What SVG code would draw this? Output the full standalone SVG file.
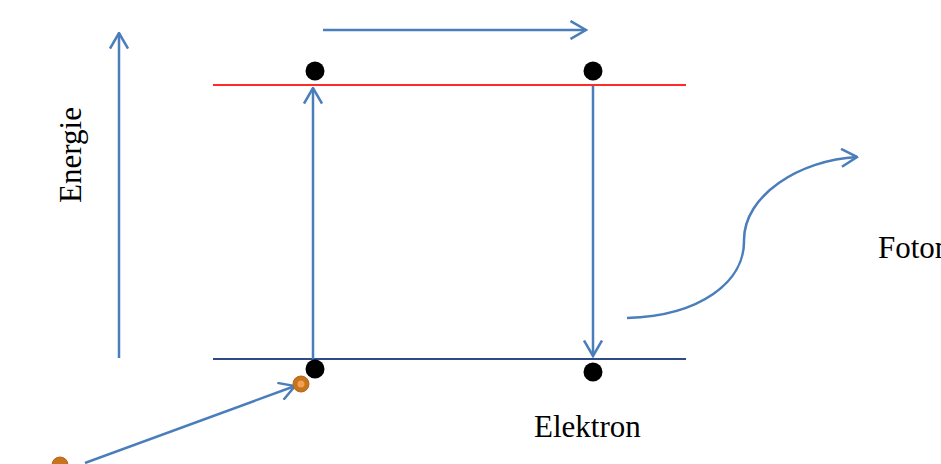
<svg xmlns="http://www.w3.org/2000/svg" width="941" height="464" viewBox="0 0 941 464">
<style>
.a{fill:none;stroke:#4a7ebb;stroke-width:2.5;marker-end:url(#h)}
.t{font-family:"Liberation Serif",serif;font-size:31px;fill:#000}
.e{fill:#000}
.p{fill:#c8741f;stroke:#b8651a;stroke-width:1}
</style>
<defs>
<marker id="h" viewBox="0 0 18 20" refX="16.5" refY="10" markerWidth="18" markerHeight="20" markerUnits="userSpaceOnUse" orient="auto">
<path d="M1,1 L16.5,10 L1,19" fill="none" stroke="#4a7ebb" stroke-width="2.5"/>
</marker>
</defs>
<rect width="941" height="464" fill="#fff"/>
<g id="levels">
<line x1="213" y1="85" x2="686" y2="85" stroke="#ff2a2a" stroke-width="2"/>
<line x1="213" y1="359" x2="686" y2="359" stroke="#2f4a86" stroke-width="2"/>
</g>
<g id="connectors">
<line class="a" x1="119" y1="358" x2="119" y2="33"/>
<line class="a" x1="323" y1="30" x2="586" y2="30"/>
<line class="a" x1="313" y1="359" x2="313" y2="88"/>
<line class="a" x1="593" y1="86" x2="593" y2="356"/>
<line class="a" x1="85" y1="463" x2="295" y2="386"/>
<path class="a" d="M627,318 C700,316 745,282 744,240 C744,195 800,160 857,157"/>
</g>
<g id="electrons">
<circle class="e" cx="315" cy="71" r="9.5"/>
<circle class="e" cx="593" cy="71" r="9.5"/>
<circle class="e" cx="315" cy="369" r="9.5"/>
<circle class="e" cx="593" cy="372" r="9.5"/>
</g>
<g id="photons">
<circle class="p" cx="301" cy="384" r="8"/>
<circle cx="301" cy="384" r="3.5" fill="#f0a050"/>
<circle class="p" cx="60" cy="465" r="8"/>
</g>
<g id="labels">
<text class="t" transform="translate(81,155) rotate(-90)" text-anchor="middle">Energie</text>
<text class="t" x="534" y="437">Elektron</text>
<text class="t" x="878" y="258">Foton</text>
</g>
</svg>
